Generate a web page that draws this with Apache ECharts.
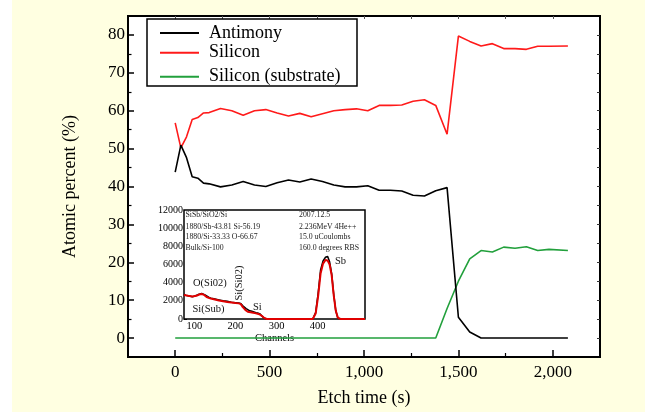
<!DOCTYPE html>
<html>
<head>
<meta charset="utf-8">
<script src="https://cdn.jsdelivr.net/npm/echarts@6/dist/echarts.min.js"></script>
<style>html,body{margin:0;padding:0;background:#fff;}#c{width:645px;height:412px;}</style>
</head>
<body>
<div id="c"></div>
<script>
// ---- main chart data ----
const etchTime = [0,30,60,90,120,150,180,240,300,360,420,480,540,600,660,720,780,840,900,960,1020,1080,1140,1200,1260,1320,1380,1440,1500,1560,1620,1680,1740,1800,1860,1920,1980,2080];
const antimony = [43.8,50.9,47.6,42.6,42.2,40.9,40.7,39.9,40.4,41.3,40.4,40.0,41.0,41.7,41.2,42.0,41.3,40.4,39.9,39.9,40.2,39.0,39.0,38.8,37.7,37.5,38.9,39.7,5.5,1.6,0,0,0,0,0,0,0,0];
const silicon = [56.8,50.2,53.1,57.7,58.2,59.4,59.5,60.6,60.0,58.8,60.0,60.3,59.4,58.6,59.3,58.4,59.2,60.0,60.3,60.5,60.0,61.4,61.4,61.5,62.5,62.9,61.4,53.8,79.7,78.3,77.1,77.7,76.4,76.4,76.2,77.0,77.0,77.1];
const substrate = [0,0,0,0,0,0,0,0,0,0,0,0,0,0,0,0,0,0,0,0,0,0,0,0,0,0,0,7.8,15.0,20.9,23.1,22.7,24.0,23.7,24.1,23.1,23.4,23.1];
const seriesNames = ['Antimony','Silicon','Silicon (substrate)'];
const xTickLabels = [0,500,1000,1500,2000];
const xMinorTicks = [250,750,1250,1750];
const yTickLabels = [0,10,20,30,40,50,60,70,80];
const yMinorTicks = [5,15,25,35,45,55,65,75];

// ---- inset (RBS spectrum) data ----
const simChannels = [75,85,95,105,112,118,124,130,140,150,160,170,180,190,200,208,213,218,224,230,240,250,258,264,270,276,388,395,401,407,413,419,424,429,434,439,444,449,455,515];
const simCounts = [2650,2550,2480,2550,2700,2750,2650,2420,2250,2150,2030,1950,1880,1820,1760,1720,1640,1300,1000,800,720,620,520,350,120,0,0,600,2500,5000,6100,6500,6450,6000,4800,2600,900,150,0,0];
const measChannels = [75,80,85,90,95,100,105,110,114,118,122,126,130,135,140,145,150,160,170,180,190,200,208,213,218,222,226,230,235,240,245,250,255,260,265,270,276,388,395,401,407,413,419,424,429,434,439,444,449,455,515];
const measCounts = [2700,2600,2550,2500,2450,2500,2600,2700,2850,2800,2850,2650,2500,2400,2300,2250,2200,2100,2000,1950,1850,1800,1750,1700,1450,1250,1150,1000,900,850,780,700,650,550,300,100,0,0,700,2800,5400,6400,6800,6900,6300,5000,2700,900,100,0,0];
const insetXLabels = [100,200,300,400];
const insetYLabels = [0,2000,4000,6000,8000,10000,12000];
const insetHeaderLeft = ['SiSb/SiO2/Si','1880/Sb-43.81 Si-56.19','1880/Si-33.33 O-66.67','Bulk/Si-100'];
const insetHeaderRight = ['2007.12.5','2.236MeV 4He++','15.0 uCoulombs','160.0 degrees RBS'];

const FF = '"Liberation Serif", "Times New Roman", serif';
const pairs = (xs, ys) => xs.map((x, i) => [x, ys[i]]);
const fmt = v => Number(v).toLocaleString('en-US');
const plain = v => String(v);

const chart = echarts.init(document.getElementById('c'), null, {renderer: 'canvas'});

const allMainX = [0,250,500,750,1000,1250,1500,1750,2000];
const allMainY = [0,5,10,15,20,25,30,35,40,45,50,55,60,65,70,75,80];

const noLine = {show: false, onZero: false};

const legendTops = [24, 43.7, 67.7];

const option = {
  backgroundColor: '#FFFFE1',
  animation: false,
  textStyle: {fontFamily: FF},
  grid: [
    {left: 128, top: 16, width: 472, height: 343, show: true, borderColor: '#000', borderWidth: 2, backgroundColor: '#fff', containLabel: false},
    {left: 184, top: 210, width: 181, height: 109, show: true, borderColor: '#000', borderWidth: 1.5, backgroundColor: '#fff', containLabel: false, z: 3}
  ],
  legend: seriesNames.map((n, i) => ({
    data: [n], left: 160, top: legendTops[i], orient: 'vertical', padding: 0, itemGap: 0,
    itemWidth: 39, itemHeight: 2, icon: 'rect', selectedMode: false, z: 6,
    textStyle: {fontFamily: FF, fontSize: 18, color: '#000', lineHeight: 18, padding: [0, 0, 0, 5]}
  })),
  xAxis: [
    {type: 'value', gridIndex: 0, position: 'bottom', min: -250, max: 2250,
      axisLine: noLine, splitLine: {show: false},
      axisTick: {show: true, inside: true, length: 7, customValues: xTickLabels, lineStyle: {color: '#000', width: 1.5}},
      axisLabel: {show: true, customValues: xTickLabels, formatter: fmt, fontFamily: FF, fontSize: 17, color: '#000', margin: 7},
      name: 'Etch time (s)', nameLocation: 'middle', nameGap: 32, nameTextStyle: {fontFamily: FF, fontSize: 18, color: '#000'}},
    {type: 'value', gridIndex: 0, position: 'bottom', min: -250, max: 2250,
      axisLine: noLine, splitLine: {show: false}, axisLabel: {show: false},
      axisTick: {show: true, inside: true, length: 4, customValues: xMinorTicks, lineStyle: {color: '#000', width: 1.2}}},
    {type: 'value', gridIndex: 0, position: 'top', min: -250, max: 2250,
      axisLine: noLine, splitLine: {show: false}, axisLabel: {show: false},
      axisTick: {show: true, inside: true, length: 3, customValues: allMainX, lineStyle: {color: '#555', width: 1}}},
    {type: 'value', gridIndex: 1, position: 'bottom', min: 75, max: 515,
      axisLine: noLine, splitLine: {show: false},
      axisTick: {show: true, inside: true, length: 3, customValues: insetXLabels, lineStyle: {color: '#000'}},
      axisLabel: {show: true, customValues: insetXLabels, formatter: plain, fontFamily: FF, fontSize: 10.5, color: '#000', margin: 2},
      name: 'Channels', nameLocation: 'middle', nameGap: 10, nameTextStyle: {fontFamily: FF, fontSize: 10.5, color: '#000'}}
  ],
  yAxis: [
    {type: 'value', gridIndex: 0, position: 'left', min: -5, max: 85,
      axisLine: noLine, splitLine: {show: false},
      axisTick: {show: true, inside: true, length: 6, customValues: yTickLabels, lineStyle: {color: '#000', width: 1.5}},
      axisLabel: {show: true, customValues: yTickLabels, formatter: plain, fontFamily: FF, fontSize: 17, color: '#000', margin: 3},
      name: 'Atomic percent (%)', nameLocation: 'middle', nameGap: 49, nameTextStyle: {fontFamily: FF, fontSize: 18, color: '#000'}},
    {type: 'value', gridIndex: 0, position: 'left', min: -5, max: 85,
      axisLine: noLine, splitLine: {show: false}, axisLabel: {show: false},
      axisTick: {show: true, inside: true, length: 3.5, customValues: yMinorTicks, lineStyle: {color: '#000', width: 1.2}}},
    {type: 'value', gridIndex: 0, position: 'right', min: -5, max: 85,
      axisLine: noLine, splitLine: {show: false}, axisLabel: {show: false},
      axisTick: {show: true, inside: true, length: 3, customValues: allMainY, lineStyle: {color: '#333', width: 1}}},
    {type: 'value', gridIndex: 1, position: 'left', min: 0, max: 12000,
      axisLine: noLine, splitLine: {show: false},
      axisTick: {show: true, inside: true, length: 3, customValues: insetYLabels, lineStyle: {color: '#000'}},
      axisLabel: {show: true, customValues: insetYLabels, formatter: plain, fontFamily: FF, fontSize: 10, color: '#000', margin: 1}}
  ],
  series: [
    {name: 'Silicon (substrate)', type: 'line', xAxisIndex: 0, yAxisIndex: 0, data: pairs(etchTime, substrate),
      showSymbol: false, symbol: 'none', color: '#22A03C', lineStyle: {color: '#22A03C', width: 1.6}, z: 2},
    {name: 'Silicon', type: 'line', xAxisIndex: 0, yAxisIndex: 0, data: pairs(etchTime, silicon),
      showSymbol: false, symbol: 'none', color: '#FF1A1A', lineStyle: {color: '#FF1A1A', width: 1.6}, z: 2},
    {name: 'Antimony', type: 'line', xAxisIndex: 0, yAxisIndex: 0, data: pairs(etchTime, antimony),
      showSymbol: false, symbol: 'none', color: '#000000', lineStyle: {color: '#000000', width: 1.6}, z: 2},
    {name: 'measured', type: 'line', xAxisIndex: 3, yAxisIndex: 3, data: pairs(measChannels, measCounts),
      showSymbol: false, symbol: 'none', color: '#000', lineStyle: {color: '#000', width: 1.5}, z: 4},
    {name: 'simulated', type: 'line', xAxisIndex: 3, yAxisIndex: 3, data: pairs(simChannels, simCounts),
      showSymbol: false, symbol: 'none', color: '#E00000', lineStyle: {color: '#E00000', width: 2}, z: 5}
  ],
  graphic: []
};

const g = [];
g.push({type: 'rect', left: 0, top: 0, shape: {width: 12, height: 412}, style: {fill: '#fff'}, z: -10, silent: true});
g.push({type: 'rect', shape: {x: 147, y: 19, width: 210, height: 67}, style: {fill: '#fff', stroke: '#000', lineWidth: 1.5}, z: 5, silent: true});
const rowsY = [215, 226.5, 237.2, 248.2];
insetHeaderLeft.forEach((t, i) => g.push({type: 'text', z: 10, silent: true,
  style: {text: t, x: 185.5, y: rowsY[i], font: '7.8px ' + FF, fill: '#222', textAlign: 'left', textVerticalAlign: 'middle'}}));
insetHeaderRight.forEach((t, i) => g.push({type: 'text', z: 10, silent: true,
  style: {text: t, x: 299, y: rowsY[i], font: '7.8px ' + FF, fill: '#222', textAlign: 'left', textVerticalAlign: 'middle'}}));
const annot = [
  {t: 'O(Si02)', x: 193, y: 283, a: 'left'},
  {t: 'Si(Sub)', x: 192.5, y: 309, a: 'left'},
  {t: 'Si', x: 253, y: 307, a: 'left'},
  {t: 'Sb', x: 335, y: 261, a: 'left'}
];
annot.forEach(o => g.push({type: 'text', z: 10, silent: true,
  style: {text: o.t, x: o.x, y: o.y, font: '10.5px ' + FF, fill: '#111', textAlign: o.a, textVerticalAlign: 'middle'}}));
g.push({type: 'text', z: 10, silent: true, x: 239, y: 283, rotation: Math.PI / 2,
  style: {text: 'Si(Si02)', x: 0, y: 0, font: '10.5px ' + FF, fill: '#111', textAlign: 'center', textVerticalAlign: 'middle'}});
option.graphic = g;

chart.setOption(option);
</script>
</body>
</html>
